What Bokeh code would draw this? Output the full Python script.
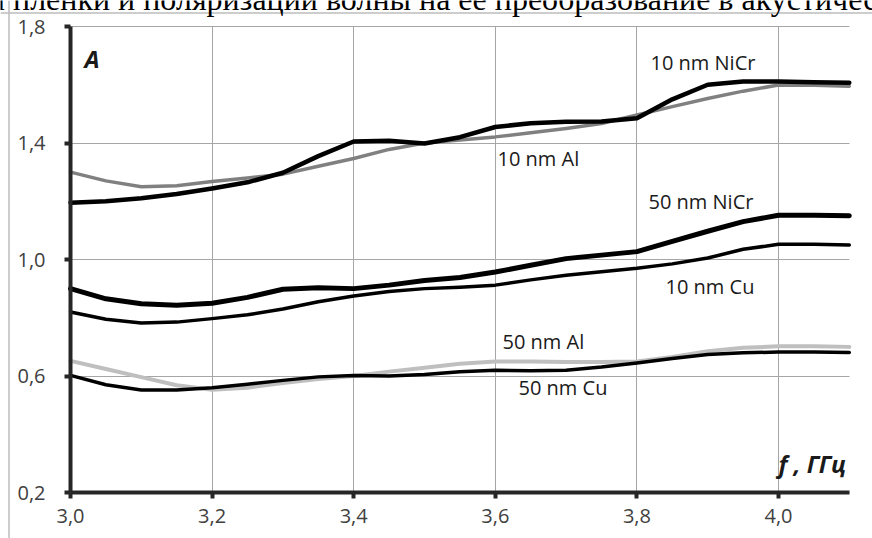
from bokeh.plotting import figure
from bokeh.models import (ColumnDataSource, FixedTicker, CustomJSTickFormatter,
                          Label, BoxAnnotation, Span)
from bokeh.core.properties import value
from bokeh.embed import file_html
from bokeh.resources import INLINE

# ---- data ----
freq = [3.00, 3.05, 3.10, 3.15, 3.20, 3.25, 3.30, 3.35, 3.40, 3.45, 3.50, 3.55,
        3.60, 3.65, 3.70, 3.75, 3.80, 3.85, 3.90, 3.95, 4.00, 4.05, 4.10]

nicr_10 = [1.195, 1.200, 1.210, 1.225, 1.244, 1.265, 1.298, 1.355, 1.405, 1.408, 1.398, 1.420,
           1.455, 1.468, 1.473, 1.474, 1.485, 1.550, 1.600, 1.611, 1.611, 1.609, 1.607]
al_10 = [1.300, 1.270, 1.250, 1.253, 1.268, 1.280, 1.293, 1.320, 1.347, 1.378, 1.400, 1.410,
         1.421, 1.435, 1.450, 1.467, 1.496, 1.525, 1.553, 1.578, 1.599, 1.598, 1.595]
nicr_50 = [0.900, 0.865, 0.848, 0.843, 0.850, 0.870, 0.898, 0.903, 0.900, 0.912, 0.928, 0.938,
           0.957, 0.980, 1.003, 1.015, 1.027, 1.062, 1.097, 1.130, 1.152, 1.152, 1.150]
cu_10 = [0.820, 0.795, 0.782, 0.785, 0.797, 0.810, 0.830, 0.855, 0.875, 0.890, 0.900, 0.905,
         0.912, 0.930, 0.946, 0.958, 0.970, 0.985, 1.005, 1.035, 1.052, 1.052, 1.050]
al_50 = [0.652, 0.624, 0.596, 0.568, 0.553, 0.560, 0.576, 0.590, 0.600, 0.615, 0.628, 0.642,
         0.650, 0.650, 0.648, 0.648, 0.650, 0.665, 0.685, 0.697, 0.702, 0.702, 0.700]
cu_50 = [0.602, 0.570, 0.552, 0.552, 0.560, 0.572, 0.585, 0.597, 0.602, 0.600, 0.605, 0.615,
         0.620, 0.618, 0.620, 0.631, 0.645, 0.660, 0.674, 0.680, 0.682, 0.682, 0.681]

x_ticks = [3.0, 3.2, 3.4, 3.6, 3.8, 4.0]
y_ticks = [0.2, 0.6, 1.0, 1.4, 1.8]

series_labels = ["10 nm NiCr", "10 nm Al", "50 nm NiCr", "10 nm Cu", "50 nm Al", "50 nm Cu"]
label_x = [3.8192, 3.6031, 3.8164, 3.8404, 3.6102, 3.6328]
label_y = [1.6764, 1.3468, 1.1981, 0.9073, 0.7174, 0.5605]

top_text = "толщины пленки и поляризации волны на ее преобразование в акустические волны"

# ---- geometry: the frame fills the whole canvas; data area is 3.0-4.1 x 0.2-1.8 ----
W, H = 872, 538
PX_X = 708.0          # pixels per GHz
PX_Y = 291.25         # pixels per unit of A
X0 = 3.0 - 70 / PX_X
Y1 = 1.8 + 26 / PX_Y
xr = (X0, X0 + W / PX_X)
yr = (Y1 - H / PX_Y, Y1)

p = figure(width=W, height=H, x_range=xr, y_range=yr,
           output_backend="svg", toolbar_location=None,
           min_border=0, min_border_left=0, min_border_right=0,
           min_border_top=0, min_border_bottom=0,
           background_fill_color="white", border_fill_color="white")
p.title = None
p.outline_line_color = None

xa, ya = p.xaxis[0], p.yaxis[0]
xa.fixed_location = 0.2
ya.fixed_location = 3.0
xa.bounds = (3.0, 4.1)
ya.bounds = (0.2, 1.8)
for ax, ticks in ((xa, x_ticks), (ya, y_ticks)):
    ax.ticker = FixedTicker(ticks=ticks)
    ax.formatter = CustomJSTickFormatter(code="return tick.toFixed(1).replace('.', ',');")
    ax.axis_line_width = 4
    ax.axis_line_color = "#262626"
    ax.major_tick_line_width = 4
    ax.major_tick_line_color = "#262626"
    ax.major_tick_in = 0
    ax.major_tick_out = 6
    ax.minor_tick_line_color = None
    ax.major_label_text_font = "Open Sans"
    ax.major_label_text_font_size = "20px"
    ax.major_label_text_color = "#404040"
xa.major_label_standoff = 10
ya.major_label_standoff = 19

xg, yg = p.xgrid[0], p.ygrid[0]
xg.ticker = FixedTicker(ticks=x_ticks)
yg.ticker = FixedTicker(ticks=y_ticks)
p.grid.grid_line_color = "#a6a6a6"
p.grid.grid_line_width = 1
if hasattr(xg, "cross_bounds"):
    xg.cross_bounds = (0.2, 1.8)
    yg.cross_bounds = (3.0, 4.1)
else:
    # mask grid lines outside the data area
    for l, r, b, t in ((xr[0], 3.0, yr[0], yr[1]), (4.1 + 1.5 / PX_X, xr[1], yr[0], yr[1]),
                       (xr[0], xr[1], 1.8 + 1.5 / PX_Y, yr[1]), (xr[0], xr[1], yr[0], 0.2)):
        p.add_layout(BoxAnnotation(left=l, right=r, bottom=b, top=t, fill_color="white",
                                   fill_alpha=1, line_color=None, level="underlay"))

# outer border of the scanned figure (left and top edges)
p.add_layout(Span(location=X0 + 8.5 / PX_X, dimension="height",
                  line_color="#bcbcbc", line_width=1.5))
p.add_layout(Span(location=Y1 - 12.5 / PX_Y, dimension="width",
                  line_color="#bcbcbc", line_width=1.5))

# ---- curves ----
src = ColumnDataSource(dict(f=freq, nicr_10=nicr_10, al_10=al_10, nicr_50=nicr_50,
                            cu_10=cu_10, al_50=al_50, cu_50=cu_50))
common = dict(source=src, line_join="round", line_cap="round")
p.line("f", "al_50", line_color="#bfbfbf", line_width=4, **common)
p.line("f", "cu_50", line_color="#000000", line_width=3.5, **common)
p.line("f", "al_10", line_color="#808080", line_width=3.5, **common)
p.line("f", "nicr_10", line_color="#000000", line_width=4.5, **common)
p.line("f", "cu_10", line_color="#000000", line_width=3.5, **common)
p.line("f", "nicr_50", line_color="#000000", line_width=5, **common)

lab_src = ColumnDataSource(dict(x=label_x, y=label_y, t=series_labels))
p.text("x", "y", text="t", source=lab_src, text_font=value("Open Sans"),
       text_font_size="20px", text_color="#1a1a1a", text_baseline="alphabetic",
       text_align="left")

# axis titles
p.add_layout(Label(x=3.0198, y=1.6912, text="A", text_font="Open Sans",
                   text_font_size="24px", text_font_style="bold italic",
                   text_color="#1a1a1a", text_baseline="alphabetic"))
p.add_layout(Label(x=4.0, y=0.2995, text="f , ГГц", text_font="Open Sans",
                   text_font_size="24px", text_font_style="bold italic",
                   text_color="#1a1a1a", text_baseline="alphabetic"))

# cropped line of the surrounding page text (only its lower part is on the picture)
p.add_layout(Label(x=X0 - 121 / PX_X, y=Y1 + 2 / PX_Y, text=top_text,
                   text_font="Liberation Serif", text_font_size="32px",
                   text_color="#000000", text_baseline="alphabetic"))

open("out.html", "w").write(file_html(p, INLINE))
